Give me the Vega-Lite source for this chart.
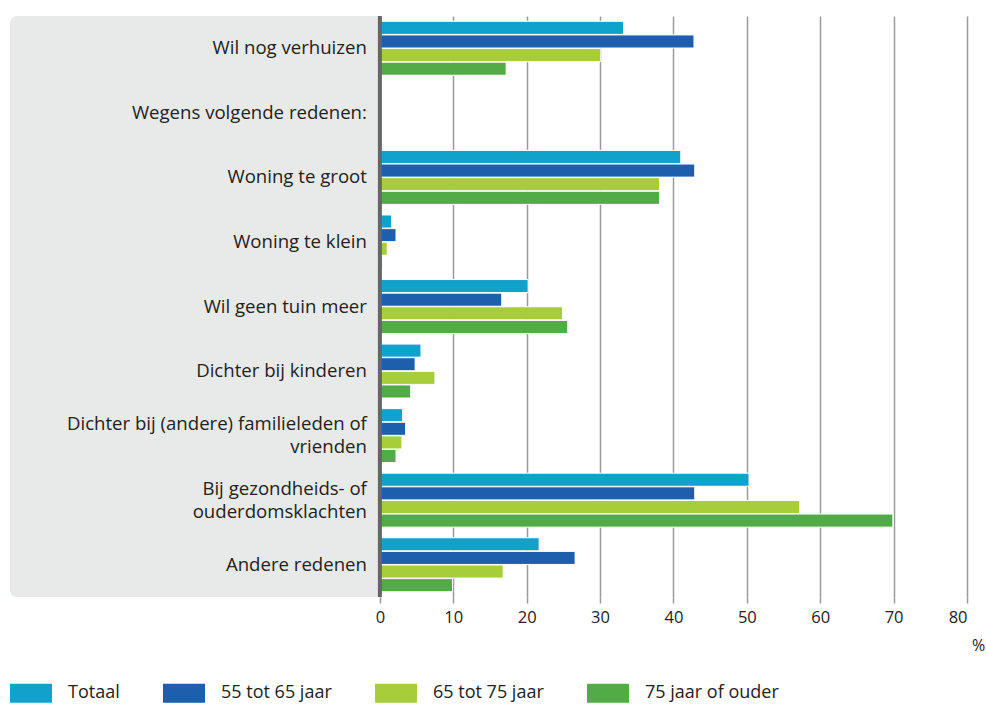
{
  "$schema": "https://vega.github.io/schema/vega-lite/v6.json",
  "autosize": {"type": "none"},
  "width": 957,
  "height": 581,
  "padding": {"left": 10, "top": 16, "right": 19, "bottom": 107},
  "background": "white",
  "config": {
    "view": {"stroke": null},
    "font": "Open Sans",
    "axis": {"labelFont": "Open Sans", "titleFont": "Open Sans"},
    "legend": {"labelFont": "Open Sans"}
  },
  "datasets": {
    "bars": [
      {"cat": "Wil nog verhuizen", "series": "Totaal", "value": 33.2},
      {"cat": "Wil nog verhuizen", "series": "55 tot 65 jaar", "value": 42.8},
      {"cat": "Wil nog verhuizen", "series": "65 tot 75 jaar", "value": 30.1},
      {"cat": "Wil nog verhuizen", "series": "75 jaar of ouder", "value": 17.2},
      {"cat": "Woning te groot", "series": "Totaal", "value": 41.0},
      {"cat": "Woning te groot", "series": "55 tot 65 jaar", "value": 42.9},
      {"cat": "Woning te groot", "series": "65 tot 75 jaar", "value": 38.1},
      {"cat": "Woning te groot", "series": "75 jaar of ouder", "value": 38.1},
      {"cat": "Woning te klein", "series": "Totaal", "value": 1.6},
      {"cat": "Woning te klein", "series": "55 tot 65 jaar", "value": 2.2},
      {"cat": "Woning te klein", "series": "65 tot 75 jaar", "value": 1.0},
      {"cat": "Woning te klein", "series": "75 jaar of ouder", "value": 0.3},
      {"cat": "Wil geen tuin meer", "series": "Totaal", "value": 20.2},
      {"cat": "Wil geen tuin meer", "series": "55 tot 65 jaar", "value": 16.6},
      {"cat": "Wil geen tuin meer", "series": "65 tot 75 jaar", "value": 24.9},
      {"cat": "Wil geen tuin meer", "series": "75 jaar of ouder", "value": 25.6},
      {"cat": "Dichter bij kinderen", "series": "Totaal", "value": 5.6},
      {"cat": "Dichter bij kinderen", "series": "55 tot 65 jaar", "value": 4.8},
      {"cat": "Dichter bij kinderen", "series": "65 tot 75 jaar", "value": 7.5},
      {"cat": "Dichter bij kinderen", "series": "75 jaar of ouder", "value": 4.2},
      {"cat": "Dichter bij (andere) familieleden of\nvrienden", "series": "Totaal", "value": 3.1},
      {"cat": "Dichter bij (andere) familieleden of\nvrienden", "series": "55 tot 65 jaar", "value": 3.5},
      {"cat": "Dichter bij (andere) familieleden of\nvrienden", "series": "65 tot 75 jaar", "value": 3.0},
      {"cat": "Dichter bij (andere) familieleden of\nvrienden", "series": "75 jaar of ouder", "value": 2.2},
      {"cat": "Bij gezondheids- of\nouderdomsklachten", "series": "Totaal", "value": 50.3},
      {"cat": "Bij gezondheids- of\nouderdomsklachten", "series": "55 tot 65 jaar", "value": 42.9},
      {"cat": "Bij gezondheids- of\nouderdomsklachten", "series": "65 tot 75 jaar", "value": 57.2},
      {"cat": "Bij gezondheids- of\nouderdomsklachten", "series": "75 jaar of ouder", "value": 69.9},
      {"cat": "Andere redenen", "series": "Totaal", "value": 21.7},
      {"cat": "Andere redenen", "series": "55 tot 65 jaar", "value": 26.6},
      {"cat": "Andere redenen", "series": "65 tot 75 jaar", "value": 16.8},
      {"cat": "Andere redenen", "series": "75 jaar of ouder", "value": 9.9}
    ],
    "cats": [
      {"cat": "Wil nog verhuizen"},
      {"cat": "Wegens volgende redenen:"},
      {"cat": "Woning te groot"},
      {"cat": "Woning te klein"},
      {"cat": "Wil geen tuin meer"},
      {"cat": "Dichter bij kinderen"},
      {"cat": "Andere redenen"}
    ],
    "cats2": [
      {"cat": "Dichter bij (andere) familieleden of\nvrienden"},
      {"cat": "Bij gezondheids- of\nouderdomsklachten"}
    ]
  },
  "layer": [
    {
      "data": {"values": [{}]},
      "mark": {"type": "rect", "color": "#e8e9e9", "cornerRadiusTopLeft": 7, "cornerRadiusBottomLeft": 7},
      "encoding": {
        "x": {"datum": -50.4, "type": "quantitative"},
        "x2": {"datum": 0}
      }
    },
    {
      "data": {"name": "bars"},
      "mark": {"type": "bar", "stroke": "white", "strokeWidth": 1},
      "encoding": {
        "y": {
          "field": "cat", "type": "nominal", "axis": null,
          "sort": ["Wil nog verhuizen", "Wegens volgende redenen:", "Woning te groot", "Woning te klein", "Wil geen tuin meer", "Dichter bij kinderen", "Dichter bij (andere) familieleden of\nvrienden", "Bij gezondheids- of\nouderdomsklachten", "Andere redenen"],
          "scale": {
            "domain": ["Wil nog verhuizen", "Wegens volgende redenen:", "Woning te groot", "Woning te klein", "Wil geen tuin meer", "Dichter bij kinderen", "Dichter bij (andere) familieleden of\nvrienden", "Bij gezondheids- of\nouderdomsklachten", "Andere redenen"],
            "paddingInner": 0, "paddingOuter": 0
          }
        },
        "yOffset": {
          "field": "series", "type": "nominal",
          "sort": ["Totaal", "55 tot 65 jaar", "65 tot 75 jaar", "75 jaar of ouder"],
          "scale": {"paddingOuter": 0.39, "paddingInner": 0.04}
        },
        "x": {
          "field": "value", "type": "quantitative",
          "scale": {"domain": [-50.4, 80], "nice": false, "zero": false},
          "axis": {
            "values": [0, 10, 20, 30, 40, 50, 60, 70, 80],
            "title": "%",
            "titleX": 968, "titleY": 48, "titleAlign": "center", "titleBaseline": "middle",
            "titleFontSize": 16, "titleFontWeight": "normal", "titleColor": "#222",
            "domain": false,
            "grid": true, "gridColor": "#9a9a9a", "gridWidth": 1.5,
            "ticks": true, "tickColor": "#9a9a9a", "tickSize": 6, "tickWidth": 1.5,
            "labelFontSize": 16.5, "labelColor": "#222", "labelPadding": 6
          }
        },
        "color": {
          "field": "series", "type": "nominal",
          "scale": {
            "domain": ["Totaal", "55 tot 65 jaar", "65 tot 75 jaar", "75 jaar of ouder"],
            "range": ["#11a2cb", "#1e5fad", "#a7cd3b", "#52ab47"]
          },
          "legend": {
            "title": null, "orient": "none", "direction": "horizontal",
            "legendX": 0, "legendY": 656, "padding": 0,
            "symbolType": "M-1,-0.45H1V0.45H-1Z", "symbolSize": 1764,
            "symbolStrokeWidth": 0, "symbolOpacity": 1,
            "labelFontSize": 18, "labelColor": "#222", "labelOffset": 16,
            "columnPadding": 43
          }
        }
      }
    },
    {
      "data": {"values": [{}]},
      "mark": {"type": "rule", "color": "#666666", "strokeWidth": 4},
      "encoding": {"x": {"datum": 0, "type": "quantitative"}}
    },
    {
      "data": {"name": "cats"},
      "mark": {"type": "text", "align": "right", "baseline": "middle", "dx": -13, "fontSize": 18.6, "color": "#222"},
      "encoding": {
        "y": {"field": "cat", "type": "nominal"},
        "x": {"datum": 0, "type": "quantitative"},
        "text": {"field": "cat"}
      }
    },
    {
      "data": {"name": "cats2"},
      "mark": {"type": "text", "align": "right", "baseline": "middle", "dx": -13, "dy": -11.5, "fontSize": 18.6, "color": "#222", "lineBreak": "\n", "lineHeight": 23},
      "encoding": {
        "y": {"field": "cat", "type": "nominal"},
        "x": {"datum": 0, "type": "quantitative"},
        "text": {"field": "cat"}
      }
    }
  ]
}
